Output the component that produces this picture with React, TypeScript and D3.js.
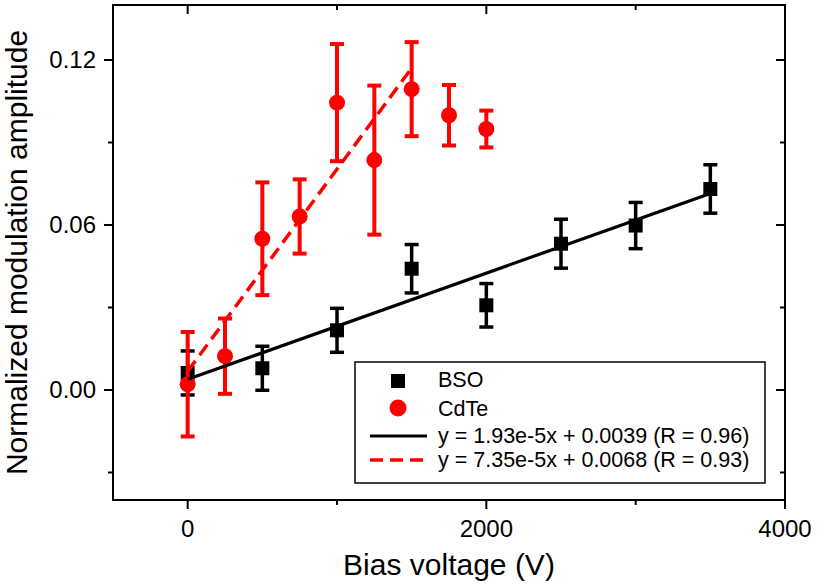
import React from "react";
import * as d3 from "d3";

const bsoX = [0, 500, 1000, 1500, 2000, 2500, 3000, 3500];
const bsoY = [0.0062, 0.0079, 0.0217, 0.0441, 0.0308, 0.0532, 0.0598, 0.0731];
const bsoErr = [0.008, 0.008, 0.008, 0.0088, 0.0079, 0.0089, 0.0084, 0.0088];

const cdteX = [0, 250, 500, 750, 1000, 1250, 1500, 1750, 2000];
const cdteY = [0.0021, 0.0123, 0.055, 0.0631, 0.1045, 0.0836, 0.1094, 0.0999, 0.0949];
const cdteErr = [0.019, 0.0137, 0.0205, 0.0135, 0.0213, 0.0271, 0.0171, 0.011, 0.0067];

const bsoFit = { slope: 1.93e-5, intercept: 0.0039, x0: 0, x1: 3500 };
const cdteFit = { slope: 7.35e-5, intercept: 0.0068, x0: 0, x1: 1500 };

const xMajor = [0, 2000, 4000];
const xMinor = [1000, 3000];
const yMajor = [0.0, 0.06, 0.12];
const yMinor = [-0.03, 0.03, 0.09];

const legendLabels = [
  "BSO",
  "CdTe",
  "y = 1.93e-5x + 0.0039 (R = 0.96)",
  "y = 7.35e-5x + 0.0068 (R = 0.93)",
];

const FONT = "'Liberation Sans', Arial, Helvetica, sans-serif";
const RED = "#ff0000";

export default function App() {
  const left = 113, right = 785, top = 5, bottom = 500;
  const x = d3.scaleLinear().domain([-500, 4000]).range([left, right]);
  const y = d3.scaleLinear().domain([-0.04, 0.14]).range([bottom, top]);

  const fitPath = (f: typeof bsoFit) =>
    d3
      .line<number>()
      .x((d) => x(d))
      .y((d) => y(f.slope * d + f.intercept))([f.x0, f.x1]) || "";

  const capW = 7;
  const sq = 14;
  const r = 8;

  return (
    <svg
      width={819}
      height={588}
      style={{ position: "absolute", left: 0, top: 0, background: "#fff" }}
      fontFamily={FONT}
    >
      <rect x={0} y={0} width={819} height={588} fill="#fff" />
      {/* BSO error bars */}
      <g stroke="#000" strokeWidth={3.5}>
        {bsoX.map((v, i) => (
          <g key={"be" + i}>
            <line x1={x(v)} x2={x(v)} y1={y(bsoY[i] - bsoErr[i])} y2={y(bsoY[i] + bsoErr[i])} />
            <line x1={x(v) - capW} x2={x(v) + capW} y1={y(bsoY[i] - bsoErr[i])} y2={y(bsoY[i] - bsoErr[i])} />
            <line x1={x(v) - capW} x2={x(v) + capW} y1={y(bsoY[i] + bsoErr[i])} y2={y(bsoY[i] + bsoErr[i])} />
          </g>
        ))}
      </g>
      {bsoX.map((v, i) => (
        <rect key={"bs" + i} x={x(v) - sq / 2} y={y(bsoY[i]) - sq / 2} width={sq} height={sq} fill="#000" />
      ))}
      {/* CdTe error bars */}
      <g stroke={RED} strokeWidth={4}>
        {cdteX.map((v, i) => (
          <g key={"ce" + i}>
            <line x1={x(v)} x2={x(v)} y1={y(cdteY[i] - cdteErr[i])} y2={y(cdteY[i] + cdteErr[i])} />
            <line x1={x(v) - capW} x2={x(v) + capW} y1={y(cdteY[i] - cdteErr[i])} y2={y(cdteY[i] - cdteErr[i])} />
            <line x1={x(v) - capW} x2={x(v) + capW} y1={y(cdteY[i] + cdteErr[i])} y2={y(cdteY[i] + cdteErr[i])} />
          </g>
        ))}
      </g>
      {cdteX.map((v, i) => (
        <circle key={"cc" + i} cx={x(v)} cy={y(cdteY[i])} r={r} fill={RED} />
      ))}
      {/* fits */}
      <path d={fitPath(bsoFit)} stroke="#000" strokeWidth={3.2} fill="none" />
      <path d={fitPath(cdteFit)} stroke={RED} strokeWidth={3.5} fill="none" strokeDasharray="13,7" />

      {/* frame */}
      <rect x={left} y={top} width={right - left} height={bottom - top} fill="none" stroke="#000" strokeWidth={2} />
      {/* ticks */}
      <g stroke="#000" strokeWidth={2}>
        {xMajor.map((v) => (
          <g key={"xm" + v}>
            <line x1={x(v)} x2={x(v)} y1={bottom} y2={bottom + 9} />
            <line x1={x(v)} x2={x(v)} y1={top} y2={top + 9} />
          </g>
        ))}
        {xMinor.map((v) => (
          <g key={"xn" + v}>
            <line x1={x(v)} x2={x(v)} y1={bottom} y2={bottom + 5} />
            <line x1={x(v)} x2={x(v)} y1={top} y2={top + 5} />
          </g>
        ))}
        {yMajor.map((v) => (
          <g key={"ym" + v}>
            <line x1={left - 9} x2={left} y1={y(v)} y2={y(v)} />
            <line x1={right - 9} x2={right} y1={y(v)} y2={y(v)} />
          </g>
        ))}
        {yMinor.map((v) => (
          <g key={"yn" + v}>
            <line x1={left - 5} x2={left} y1={y(v)} y2={y(v)} />
            <line x1={right - 5} x2={right} y1={y(v)} y2={y(v)} />
          </g>
        ))}
      </g>
      {/* tick labels */}
      <g fontSize={24} fill="#000">
        {xMajor.map((v) => (
          <text key={"xl" + v} x={x(v)} y={537} textAnchor="middle">
            {d3.format("d")(v)}
          </text>
        ))}
        {yMajor.map((v) => (
          <text key={"yl" + v} x={96} y={y(v) + 8} textAnchor="end">
            {d3.format(".2f")(v)}
          </text>
        ))}
      </g>
      {/* axis titles */}
      <text x={(left + right) / 2} y={575} textAnchor="middle" fontSize={30} fill="#000">
        Bias voltage (V)
      </text>
      <text
        transform={`translate(27, ${(top + bottom) / 2}) rotate(-90)`}
        textAnchor="middle"
        fontSize={30}
        fill="#000"
      >
        Normalized modulation amplitude
      </text>

      {/* legend */}
      <g>
        <rect x={355} y={362} width={410} height={121} fill="#fff" stroke="#000" strokeWidth={1.5} />
        <rect x={398 - 7} y={381 - 7} width={14} height={14} fill="#000" />
        <circle cx={398} cy={408} r={8.5} fill={RED} />
        <line x1={370} x2={427} y1={436} y2={436} stroke="#000" strokeWidth={3.2} />
        <line x1={370} x2={427} y1={460} y2={460} stroke={RED} strokeWidth={3.5} strokeDasharray="13,7" />
        <g fontSize={21.5} fill="#000">
          <text x={438} y={387}>{legendLabels[0]}</text>
          <text x={438} y={416}>{legendLabels[1]}</text>
          <text x={438} y={443}>{legendLabels[2]}</text>
          <text x={438} y={467}>{legendLabels[3]}</text>
        </g>
      </g>
    </svg>
  );
}
